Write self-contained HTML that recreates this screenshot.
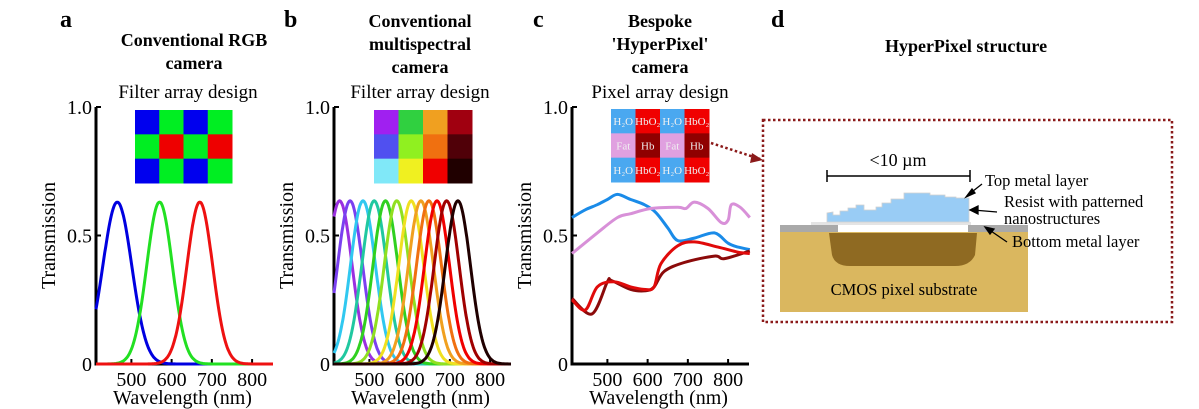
<!DOCTYPE html>
<html><head><meta charset="utf-8"><style>
body{margin:0;background:#fff}
svg{display:block;font-family:"Liberation Serif",serif}
</style></head><body>
<svg id="fig" width="1199" height="409" viewBox="0 0 1199 409">
<g font-weight="bold" font-size="24" fill="#000">
<text x="60" y="27">a</text>
<text x="284" y="27">b</text>
<text x="533" y="27">c</text>
<text x="771" y="27">d</text>
</g>
<g font-weight="bold" font-size="18" text-anchor="middle">
<text x="194" y="46">Conventional RGB</text>
<text x="194" y="69">camera</text>
<text x="420" y="27">Conventional</text>
<text x="420" y="50">multispectral</text>
<text x="420" y="73">camera</text>
<text x="660" y="27">Bespoke</text>
<text x="660" y="50">'HyperPixel'</text>
<text x="660" y="73">camera</text>
<text x="966" y="52">HyperPixel structure</text>
</g>
<g font-size="19" text-anchor="middle">
<text x="188" y="98">Filter array design</text>
<text x="420" y="98">Filter array design</text>
<text x="660" y="98">Pixel array design</text>
</g>
<g id="mosaics"></g>
<g id="plots"></g>
<g>
<rect x="763" y="120" width="409" height="202" fill="none" stroke="#8b1a1a" stroke-width="2.5" stroke-dasharray="2.5,2.5"/>
<path d="M711,143 L760,159" stroke="#8b1a1a" stroke-width="2.5" stroke-dasharray="2.5,2.5"/>
<path d="M752,153 L763,160 L750,163 Z" fill="#8b1a1a"/>
<rect x="780" y="232" width="248" height="80" fill="#dab75f"/>
<path d="M829,233 L977,233 L975,255 Q970,266 955,266 L850,266 Q835,266 832,255 Z" fill="#8f6a22"/>
<rect x="780" y="225" width="248" height="7" fill="#a9a9a9"/>
<rect x="838" y="225" width="130" height="7" fill="#fff"/>
<rect x="811" y="222" width="160" height="3" fill="#e4e4e4"/>
<path d="M827,222 L827,213 L833,212 L833,215 L840,215 L840,211 L848,211 L848,208 L856,208 L856,205 L864,205 L864,210 L876,210 L876,207 L882,207 L882,203 L891,203 L891,199 L904,199 L904,193 L930,193 L930,195 L945,195 L945,197 L956,197 L956,198 L969,198 L969,222 Z" fill="#99ccf5" stroke="#d0d0d0" stroke-width="0.8"/>
<path d="M827,176 L970,176 M827,170 L827,182 M970,170 L970,182" stroke="#000" stroke-width="1.5"/>
<text x="898" y="166" font-size="18" text-anchor="middle">&lt;10 µm</text>
<g font-size="16.5">
<text x="985" y="186">Top metal layer</text>
<text x="1004" y="207">Resist with patterned</text>
<text x="1004" y="224">nanostructures</text>
<text x="1012" y="247">Bottom metal layer</text>
<text x="904" y="295" text-anchor="middle">CMOS pixel substrate</text>
</g>
<g stroke="#000" stroke-width="1.3" fill="#000">
<path d="M982,184 L968,195"/><path d="M966,197 L972,189 L975,193 Z"/>
<path d="M997,212 L973,210"/><path d="M970,210 L978,206 L978,214 Z"/>
<path d="M1007,242 L988,229"/><path d="M985,227 L994,229 L990,234 Z"/>
</g>
</g>
</svg>
<script>
// ---- data ----
const wlMin = 412, wlMax = 852;
const rgbPeaks = [465, 570, 670];
const rgbSigma = [36, 32, 32];
const rgbAmp = [0.63, 0.63, 0.63];
const rgbColors = ['#0000e0', '#22e022', '#ee1111'];
const msPeaks = [426, 452, 484, 512, 540, 568, 604, 628, 648, 668, 692, 720];
const msAmp = 0.635;
const msSigma = 31;
const msColors = ['#9a30e0','#7a40f0','#30c8f0','#20c8a0','#30d020','#90e020','#f0e020','#f0a020','#f07010','#f00000','#a00000','#200000'];
const cWl = [412,445,475,500,525,558,592,620,650,675,716,766,800,825,854];
const hpBlue = [0.57,0.60,0.62,0.64,0.66,0.64,0.62,0.59,0.53,0.48,0.49,0.51,0.47,0.455,0.445];
const hpPinkWl = [412,475,525,558,608,675,695,716,750,783,800,808,830,854];
const hpPink = [0.43,0.51,0.57,0.585,0.605,0.61,0.605,0.63,0.605,0.55,0.56,0.62,0.61,0.57];
const hpRedWl = [412,445,475,516,558,595,616,633,675,716,775,825,854];
const hpRed = [0.25,0.21,0.30,0.32,0.30,0.29,0.30,0.39,0.46,0.475,0.455,0.435,0.43];
const hpDarkWl = [412,462,500,510,558,595,616,641,691,766,791,854];
const hpDark = [0.255,0.195,0.32,0.325,0.29,0.285,0.30,0.36,0.395,0.42,0.41,0.44];
const xTicks = [500, 600, 700, 800];
const yTicks = [0, 0.5, 1.0];
const yTickLabels = ['0', '0.5', '1.0'];

const NS = 'http://www.w3.org/2000/svg';
function mk(tag, attrs, parent){const e=document.createElementNS(NS,tag);for(const k in attrs)e.setAttribute(k,attrs[k]);parent.appendChild(e);return e;}
const plots = document.getElementById('plots');
const panels = [{x0:96,name:'a'},{x0:334,name:'b'},{x0:572,name:'c'}];
const yTop=107, yBot=364, plotW=177;
function makeAxes(p){
  const sx = w => p.x0 + (w-wlMin)/(wlMax-wlMin)*plotW;
  const sy = v => yBot - v*(yBot-yTop);
  const g = mk('g',{},plots);
  
  
  const ax = mk('path',{d:`M${p.x0},${yTop} L${p.x0},${yBot} L${p.x0+plotW},${yBot}`,stroke:'#000','stroke-width':3,fill:'none'},g);
  
  
  yTicks.forEach((v,i)=>{
    mk('line',{x1:p.x0,x2:p.x0+5,y1:sy(v),y2:sy(v),stroke:'#000','stroke-width':2},g);
    const t=mk('text',{x:p.x0-4,y:sy(v)+7,'font-size':20,'text-anchor':'end'},g);
    t.textContent=yTickLabels[i];
    
    
  });
  xTicks.forEach(v=>{
    mk('line',{x1:sx(v),x2:sx(v),y1:yBot,y2:yBot-5,stroke:'#000','stroke-width':2},g);
    const t=mk('text',{x:sx(v),y:yBot+22,'font-size':20,'text-anchor':'middle'},g);
    t.textContent=v;
    
    
  });
  const xt=mk('text',{x:p.x0+plotW/2-2,y:yBot+40,'font-size':20,'text-anchor':'middle'},g);
  xt.textContent='Wavelength (nm)';
  
  
  const yt=mk('text',{x:0,y:0,'font-size':20,'text-anchor':'middle',transform:`translate(${p.x0-41},${(yTop+yBot)/2}) rotate(-90)`},g);
  yt.textContent='Transmission';
  
  
  return {g,sx,sy};
}
function line(ax, xs, ys, color, nm, smooth){
  const P=xs.map((x,i)=>[ax.sx(x),ax.sy(ys[i])]);
  let d='M'+P[0][0].toFixed(1)+','+P[0][1].toFixed(1);
  for(let i=0;i<P.length-1;i++){
    if(smooth){
      const p0=P[Math.max(0,i-1)],p1=P[i],p2=P[i+1],p3=P[Math.min(P.length-1,i+2)];
      const c1=[p1[0]+(p2[0]-p0[0])/6,p1[1]+(p2[1]-p0[1])/6];
      const c2=[p2[0]-(p3[0]-p1[0])/6,p2[1]-(p3[1]-p1[1])/6];
      d+=`C${c1[0].toFixed(1)},${c1[1].toFixed(1)} ${c2[0].toFixed(1)},${c2[1].toFixed(1)} ${p2[0].toFixed(1)},${p2[1].toFixed(1)}`;
    } else d+='L'+P[i+1][0].toFixed(1)+','+P[i+1][1].toFixed(1);
  }
  const e=mk('path',{d,stroke:color,'stroke-width':3,fill:'none','stroke-linejoin':'round'},ax.g);
  
  
}
function gaussLine(ax, peak, sig, amp, color, nm){
  const xs=[],ys=[];
  for(let w=wlMin;w<=wlMax;w+=2){xs.push(w);ys.push(amp*Math.exp(-0.5*((w-peak)/sig)**2));}
  line(ax,xs,ys,color,nm,false);
}
const A=makeAxes(panels[0]);
rgbPeaks.forEach((p,i)=>gaussLine(A,p,rgbSigma[i],rgbAmp[i],rgbColors[i],'rgb-curve-'+i));
const B=makeAxes(panels[1]);
msPeaks.forEach((p,i)=>gaussLine(B,p,msSigma,msAmp,msColors[i],'ms-curve-'+i));
const C=makeAxes(panels[2]);
line(C,cWl,hpBlue,'#1a8be8','h2o-curve',true);
line(C,hpPinkWl,hpPink,'#d890d8','fat-curve',true);
line(C,hpDarkWl,hpDark,'#8b0a0a','hb-curve',true);
line(C,hpRedWl,hpRed,'#e00a0a','hbo2-curve',true);

const mos=document.getElementById('mosaics');
const aCols=[['#0000ee','#00ee22','#0000ee','#00ee22'],['#00ee22','#ee0000','#00ee22','#ee0000'],['#0000ee','#00ee22','#0000ee','#00ee22']];
const bCols=[['#a020f0','#30d040','#f0a020','#a00010'],['#5050f0','#90f020','#f07010','#500008'],['#80e8f8','#f0f020','#f00000','#200000']];
const cCols=[['#4aa8f0','#f00000','#4aa8f0','#f00000'],['#e0a0e0','#900000','#e0a0e0','#900000'],['#4aa8f0','#f00000','#4aa8f0','#f00000']];
const cTxt=[['H₂O','HbO₂','H₂O','HbO₂'],['Fat','Hb','Fat','Hb'],['H₂O','HbO₂','H₂O','HbO₂']];
function mosaic(x,y,w,h,cols,txt,nm){
  const g=mk('g',{},mos);
  
  
  const cw=w/4,ch=h/3;
  for(let r=0;r<3;r++)for(let c=0;c<4;c++){
    mk('rect',{x:x+c*cw,y:y+r*ch,width:cw+0.5,height:ch+0.5,fill:cols[r][c]},g);
    if(txt){const t=mk('text',{x:x+c*cw+cw/2,y:y+r*ch+ch/2+4,'font-size':11,'text-anchor':'middle',fill:'#f0f0f0'},g);t.textContent=txt[r][c];}
  }
}
mosaic(135,110,97,73,aCols,null,'rgb-filter-array');
mosaic(374,110,98,73,bCols,null,'multispectral-filter-array');
mosaic(611,109,98,73,cCols,cTxt,'hyperpixel-array');
</script>
</body></html>
